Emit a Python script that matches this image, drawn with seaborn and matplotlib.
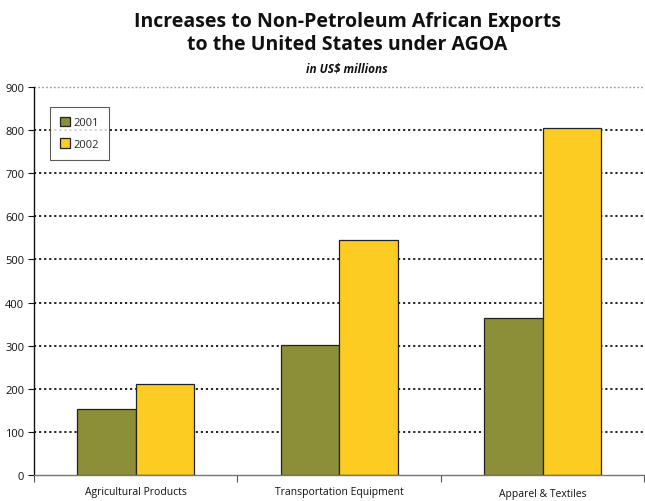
import matplotlib
matplotlib.use("Agg")
import matplotlib.pyplot as plt
import seaborn as sns
import pandas as pd
import numpy as np
from matplotlib.ticker import FixedLocator

categories = ["Agricultural Products", "Transportation Equipment", "Apparel & Textiles"]
years = ["2001", "2002"]
values_2001 = [153, 301, 365]
values_2002 = [211, 546, 804]
yticks = [0, 100, 200, 300, 400, 500, 600, 700, 800, 900]

sns.set_theme(style="white")
plt.rcParams['font.family'] = ['Open Sans', 'DejaVu Sans']

df = pd.DataFrame({
    "Category": categories * 2,
    "Year": [years[0]] * 3 + [years[1]] * 3,
    "Value": values_2001 + values_2002,
})

fig = plt.figure(figsize=(6.45, 5.02), dpi=100)
ax = fig.add_axes([34/645, 1 - 476/502, 1 - 34/645 - 0.001, (476 - 88)/502])

sns.barplot(data=df, x="Category", y="Value", hue="Year",
            palette=["#8C8F38", "#FCCC22"], width=0.575, ax=ax,
            edgecolor="#222222", linewidth=0.9, saturation=1, legend=True)

ax.set_xlim(-0.5, 2.5)
ax.set_ylim(0, 900)
ax.set_yticks(yticks)
ax.set_yticklabels([str(t) for t in yticks], fontsize=8, color="#111111")
for t in yticks[1:-1]:
    ax.axhline(t, color="#111111", linestyle=(0, (1.2, 1.6)), linewidth=1.3, zorder=0)
ax.axhline(900, color="#999999", linestyle=(0, (1.2, 1.6)), linewidth=1.0, zorder=0, clip_on=False)

ax.set_xticks(range(3))
ax.set_xticklabels(categories, fontsize=7.5, color="#111111")
ax.tick_params(axis="x", which="major", length=0, pad=8)
ax.xaxis.set_minor_locator(FixedLocator([-0.5, 0.5, 1.5, 2.5]))
ax.tick_params(axis="x", which="minor", length=5, width=0.8, color="#555555", direction="out", bottom=True)
ax.tick_params(axis="y", length=4, width=0.8, color="#111111", direction="out", left=True, pad=3)
labels = ax.get_xticklabels()
labels[2].set_y(-0.006)

ax.set_xlabel("")
ax.set_ylabel("")
for s in ["top", "right"]:
    ax.spines[s].set_visible(False)
ax.spines["left"].set_color("#111111")
ax.spines["left"].set_linewidth(1.0)
ax.spines["bottom"].set_color("#777777")
ax.spines["bottom"].set_linewidth(1.0)

leg = ax.legend(loc="upper left", bbox_to_anchor=(16/611, 1 - 20/388), frameon=True,
                fontsize=8, handlelength=0.9, handleheight=0.9, handletextpad=0.3,
                labelspacing=0.9, borderpad=0.9, fancybox=False, borderaxespad=0)
leg.get_frame().set_edgecolor("#333333")
leg.get_frame().set_linewidth(0.8)

cx = 347 / 645
fig.text(cx, 1 - 22/502, "Increases to Non-Petroleum African Exports", ha="center", va="center",
         fontsize=14, fontweight="bold", color="#111111")
fig.text(cx, 1 - 45/502, "to the United States under AGOA", ha="center", va="center",
         fontsize=14, fontweight="bold", color="#111111")
fig.text(cx, 1 - 69/502, "in US$ millions", ha="center", va="center",
         fontsize=8.5, fontweight="bold", fontstyle="italic", color="#111111")

fig.savefig("out.png", dpi=100)
